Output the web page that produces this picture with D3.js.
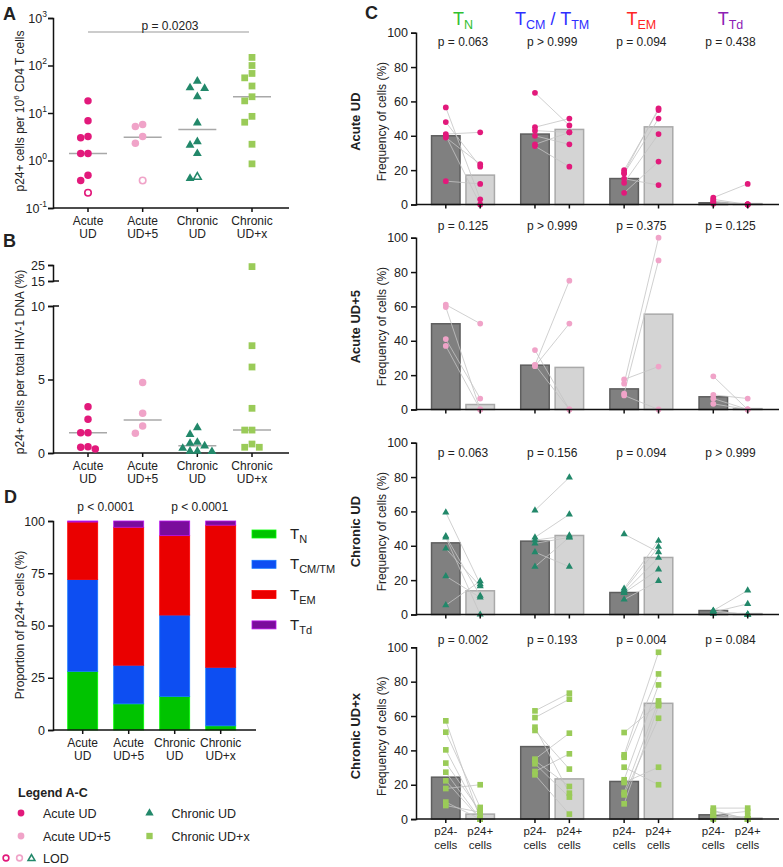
<!DOCTYPE html>
<html lang="en">
<head>
<meta charset="UTF-8">
<title>p24+ cells by memory subset</title>
<script src="https://d3js.org/d3.v7.min.js"></script>
<style>
  body { margin: 0; background: #fff; }
  svg text { font-family: "Liberation Sans", Arial, Helvetica, sans-serif; fill: #222; }
</style>
</head>
<body>
<div id="chart"></div>
<script>
// ---------- data ----------
const groups = ["Acute UD", "Acute UD+5", "Chronic UD", "Chronic UD+x"];
const groupLines = [["Acute", "UD"], ["Acute", "UD+5"], ["Chronic", "UD"], ["Chronic", "UD+x"]];
const groupColors = ["#e2197b", "#f0a3c8", "#22886a", "#9acb58"];
const groupShapes = ["circle", "circle", "triangle", "square"];

// A: p24+ cells per 10^6 CD4 T cells
const aAcuteUD = [18, 6.9, 3.2, 3.0, 1.4, 1.4, 0.49, 0.38];
const aAcuteUD5 = [5.2, 5.7, 2.3, 3.2];
const aChronicUD = [47, 33, 34, 22, 6.2, 2.5, 2.1, 1.4, 0.42];
const aChronicUDx = [148, 100, 68, 55, 37, 18, 22, 8.5, 6.4, 2.2, 0.85];
const aLod = [0.21, 0.38, 0.45, null];
const aMedians = [1.4, 3.1, 4.5, 22];

// B: p24+ cells per total HIV-1 DNA (%)
const bAcuteUD = [3.15, 2.3, 1.38, 1.38, 0.43, 0.27, 0.39];
const bAcuteUD5 = [4.8, 2.7, 1.84, 1.34];
const bChronicUD = [1.72, 1.27, 0.73, 0.66, 0.48, 0.32, 0.12, 0.12, 0.1];
const bChronicUDx = [24, 7.3, 5.85, 3.04, 1.56, 1.56, 0.61, 0.39, 0.39];
const bMedians = [1.38, 2.25, 0.5, 1.56];

// C: subsets, [p24- , p24+] pairs per donor
const subsets = ["TN", "TCM", "TEM", "TTd"];
const cAcuteUD = [
  [[56.5, 3], [48, 22], [41, 42], [40, 0], [39, 23.5], [13.6, 12]],
  [[65, 46], [45, 50], [43, 42], [40, 35], [35, 42], [34, 22]],
  [[20, 55], [18.4, 56], [18, 50], [12.6, 41], [6.8, 25], [15, 11.3]],
  [[4, 12], [3, 0], [1.5, 0], [0.5, 0], [2, 0], [1, 0]]
];
const cAcuteUD5 = [
  [[61, 50], [59.6, 0], [41, 6.4], [37, 0]],
  [[25.8, 75], [25.2, 50], [34.6, 0], [26, 0]],
  [[17.5, 25], [15, 100], [9.3, 86.8], [8.2, 0]],
  [[19.3, 0], [8.5, 6.4], [6.4, 0], [3.3, 0]]
];
const cChronicUD = [
  [[59.4, 17.7], [45.6, 10.9], [44.9, 0], [38.4, 16.5], [22.3, 9.9], [5.4, 19.4]],
  [[60.6, 79.8], [44.9, 58.3], [43.3, 46], [41.4, 44.9], [36.3, 27.8], [27.8, 45]],
  [[46.8, 36.3], [15.1, 42.9], [14.2, 39.4], [12.6, 26.2], [8.7, 19.6], [13, 33]],
  [[2.3, 14], [1.4, 6.2], [2, 0], [1, 0], [0.5, 0], [2, 0]]
];
const cChronicUDx = [
  [[57.2, 0], [50.6, 6.8], [40.3, 2.5], [32.6, 4.5], [27.3, 0], [22.3, 0], [17.8, 20], [9.9, 0], [7.9, 4]],
  [[63, 73.3], [59.1, 69.8], [53.5, 15.1], [51.6, 29.1], [34.9, 50], [34.1, 19], [32.2, 12.8], [27.7, 38], [25.8, 2.9]],
  [[50.4, 66.9], [37.4, 97.1], [36, 84.5], [30.2, 20], [22.9, 78.1], [21.3, 30.2], [15.5, 68.8], [14.1, 58.7], [8.9, 66]],
  [[6.4, 6.4], [4.5, 0], [2.5, 4.5], [1, 1.5], [0, 0], [0.6, 0], [5, 0], [3, 0], [1.5, 0]]
];
const cBarsNeg = [[40, 41, 15.1, 1], [49.9, 25.8, 12, 7.4], [41.7, 42.7, 12.8, 2.3], [24.4, 42.2, 21.9, 2.5]];
const cBarsPos = [[17.1, 43.7, 45.2, 0.5], [2.9, 24.5, 55.5, 0.5], [13.8, 46, 33.2, 0.5], [2.9, 23.4, 67.4, 0.5]];
const cPvals = [
  ["p = 0.063", "p > 0.999", "p = 0.094", "p = 0.438"],
  ["p = 0.125", "p > 0.999", "p = 0.375", "p = 0.125"],
  ["p = 0.063", "p = 0.156", "p = 0.094", "p > 0.999"],
  ["p = 0.002", "p = 0.193", "p = 0.004", "p = 0.084"]
];

// D: proportion of p24+ cells per subset
const dTN = [28, 12.5, 16, 2];
const dTCM = [44, 18.5, 39, 28];
const dTEM = [27.5, 66, 38, 68];
const dTTd = [0.5, 3, 7, 2];
const subsetColors = ["#00c300", "#0d4ef2", "#ea0000", "#7a0c9c"];
const subsetTitleColors = ["#30c030", "#2e2eff", "#ff2424", "#8c20b4"];
const subsetMain = ["T", "T", "T", "T"];
const subsetSub = ["N", "CM/TM", "EM", "Td"];

// ---------- setup ----------
const W = 783, H = 867;
const svg = d3.select("#chart").append("svg").attr("width", W).attr("height", H);

function styleAxis(g, fs) {
  g.select(".domain").attr("stroke", "#111").attr("stroke-width", 1.5);
  g.selectAll(".tick line").attr("stroke", "#111").attr("stroke-width", 1.5);
  g.selectAll(".tick text").attr("fill", "#222").style("font-size", (fs || 12.5) + "px")
    .style("font-family", '"Liberation Sans", Arial, sans-serif');
}

function symbolPath(shape, size) {
  const t = shape === "triangle" ? d3.symbolTriangle : shape === "square" ? d3.symbolSquare : d3.symbolCircle;
  return d3.symbol().type(t).size(size)();
}

function marker(g, shape, x, y, size, color, open) {
  g.append("path")
    .attr("d", symbolPath(shape, size))
    .attr("transform", `translate(${x},${y})`)
    .attr("fill", open ? "#fff" : color)
    .attr("stroke", open ? color : "none")
    .attr("stroke-width", 1.6);
}

// simple swarm: place each point at the first free column offset
function swarm(ys, step, dMin) {
  const placed = [];
  const out = new Array(ys.length);
  const order = ys.map((d, i) => i).sort((a, b) => ys[a] - ys[b]);
  order.forEach(i => {
    for (const c of [0, -1, 1, -2, 2, -3, 3]) {
      const dx = c * step;
      if (placed.every(p => Math.abs(p.dx - dx) >= step - 0.1 || Math.abs(p.y - ys[i]) >= dMin)) {
        placed.push({ dx, y: ys[i] });
        out[i] = dx;
        break;
      }
    }
  });
  return out;
}

function label(x, y, text, opts) {
  const o = opts || {};
  const t = svg.append("text").attr("x", x).attr("y", y).text(text)
    .style("font-size", (o.size || 12.5) + "px")
    .attr("text-anchor", o.anchor || "start");
  if (o.bold) t.style("font-weight", "bold");
  if (o.rotate) t.attr("transform", `rotate(-90,${x},${y})`);
  return t;
}

function xGroupLabels(xFn, y0) {
  groups.forEach((g, i) => {
    label(xFn(g), y0, groupLines[i][0], { anchor: "middle", size: 12 });
    label(xFn(g), y0 + 13.5, groupLines[i][1], { anchor: "middle", size: 12 });
  });
}

function groupXAxis(xFn, y, x0, x1) {
  const g = svg.append("g");
  g.append("line").attr("x1", x0).attr("x2", x1).attr("y1", y).attr("y2", y)
    .attr("stroke", "#111").attr("stroke-width", 1.5);
  groups.forEach(d => g.append("line").attr("x1", xFn(d)).attr("x2", xFn(d))
    .attr("y1", y).attr("y2", y + 4).attr("stroke", "#111").attr("stroke-width", 1.5));
}

// ---------- panel A ----------
const yA = d3.scaleLog().domain([0.1, 1000]).range([208, 18]);
const xA = d3.scalePoint().domain(groups).range([88, 252]);
const axA = svg.append("g").attr("transform", "translate(53,0)")
  .call(d3.axisLeft(yA).tickValues([0.1, 1, 10, 100, 1000]).tickFormat("").tickSizeOuter(0).tickSize(5));
styleAxis(axA);
[-1, 0, 1, 2, 3].forEach(e => {
  const t = svg.append("text").attr("x", 47).attr("y", yA(Math.pow(10, e)) + 4.5)
    .attr("text-anchor", "end").style("font-size", "12.5px");
  t.append("tspan").text("10");
  t.append("tspan").text(e).attr("dy", -6).style("font-size", "8.5px");
});
groupXAxis(xA, 208, 53, 289);
xGroupLabels(xA, 224.5);

const aSets = [aAcuteUD, aAcuteUD5, aChronicUD, aChronicUDx];
aSets.forEach((vals, gi) => {
  const all = vals.map(v => ({ v, lod: false }));
  if (aLod[gi] != null) all.push({ v: aLod[gi], lod: true });
  const ys = all.map(d => yA(d.v));
  const dx = swarm(ys, 7.3, 7.5);
  const cx = xA(groups[gi]);
  svg.append("line").attr("x1", cx - 19).attr("x2", cx + 19)
    .attr("y1", yA(aMedians[gi])).attr("y2", yA(aMedians[gi]))
    .attr("stroke", "#a8a8a8").attr("stroke-width", 1.5);
  const g = svg.append("g");
  all.forEach((d, i) => {
    const sz = groupShapes[gi] === "square" ? 46 : groupShapes[gi] === "triangle" ? 34 : 44;
    marker(g, groupShapes[gi], cx + dx[i], ys[i], d.lod ? sz * 0.75 : sz, groupColors[gi], d.lod);
  });
});
svg.append("line").attr("x1", xA(groups[0])).attr("x2", xA(groups[3]) - 3)
  .attr("y1", 32).attr("y2", 32).attr("stroke", "#999").attr("stroke-width", 1);
label((xA(groups[0]) + xA(groups[3])) / 2, 30, "p = 0.0203", { anchor: "middle", size: 12 });
const yLabA = svg.append("text").attr("transform", "translate(24,111) rotate(-90)")
  .attr("text-anchor", "middle").style("font-size", "12px");
yLabA.append("tspan").text("p24+ cells per 10");
yLabA.append("tspan").text("6").attr("dy", -5).style("font-size", "8px");
yLabA.append("tspan").text(" CD4 T cells").attr("dy", 5);
label(3, 20, "A", { bold: true, size: 18 });

// ---------- panel B ----------
const yBLow = d3.scaleLinear().domain([0, 10]).range([453, 306]);
const yBHigh = d3.scaleLinear().domain([15, 25]).range([281, 265]);
const yB = v => v <= 10 ? yBLow(v) : yBHigh(v);
const xB = d3.scalePoint().domain(groups).range([88, 252]);
const axB1 = svg.append("g").attr("transform", "translate(53,0)")
  .call(d3.axisLeft(yBLow).tickValues([0, 5, 10]).tickSizeOuter(0).tickSize(5));
styleAxis(axB1);
const axB2 = svg.append("g").attr("transform", "translate(53,0)")
  .call(d3.axisLeft(yBHigh).tickValues([15, 25]).tickSizeOuter(0).tickSize(5));
styleAxis(axB2);
[yBLow(10), yBHigh(15)].forEach(y => svg.append("line").attr("x1", 53).attr("x2", 59)
  .attr("y1", y).attr("y2", y).attr("stroke", "#111").attr("stroke-width", 1.5));
groupXAxis(xB, 453, 53, 289);
xGroupLabels(xB, 469.5);

const bSets = [bAcuteUD, bAcuteUD5, bChronicUD, bChronicUDx];
bSets.forEach((vals, gi) => {
  const ys = vals.map(yB);
  const dx = swarm(ys, 7.3, 7.5);
  const cx = xB(groups[gi]);
  svg.append("line").attr("x1", cx - 19).attr("x2", cx + 19)
    .attr("y1", yB(bMedians[gi])).attr("y2", yB(bMedians[gi]))
    .attr("stroke", "#a8a8a8").attr("stroke-width", 1.5);
  const g = svg.append("g");
  vals.forEach((v, i) => {
    const sz = groupShapes[gi] === "square" ? 46 : groupShapes[gi] === "triangle" ? 34 : 44;
    marker(g, groupShapes[gi], cx + dx[i], ys[i], sz, groupColors[gi], false);
  });
});
label(24, 362, "p24+ cells per total HIV-1 DNA (%)", { anchor: "middle", size: 12, rotate: true });
label(3, 247, "B", { bold: true, size: 18 });

// ---------- panel C ----------
const xC = d3.scalePoint().domain(subsets).range([463, 730.5]);
const half = 17.2, barW = 28.5;
const rowTops = [32.7, 237.7, 442.7, 647.3];
const rowH = 171.8;
const pBase = [46, 229.5, 457, 644];
const cRows = [cAcuteUD, cAcuteUD5, cChronicUD, cChronicUDx];
const rowTitles = ["Acute  UD", "Acute UD+5", "Chronic UD", "Chronic UD+x"];
const cShape = ["circle", "circle", "triangle", "square"];

cRows.forEach((row, ri) => {
  const y = d3.scaleLinear().domain([0, 100]).range([rowTops[ri] + rowH, rowTops[ri]]);
  const base = rowTops[ri] + rowH;
  const g = svg.append("g");
  subsets.forEach((s, si) => {
    const xn = xC(s) - half, xp = xC(s) + half;
    g.append("rect").attr("x", xn - barW / 2).attr("width", barW)
      .attr("y", y(cBarsNeg[ri][si])).attr("height", base - y(cBarsNeg[ri][si]))
      .attr("fill", "#808080").attr("stroke", "#5e5e5e").attr("stroke-width", 1.5);
    g.append("rect").attr("x", xp - barW / 2).attr("width", barW)
      .attr("y", y(cBarsPos[ri][si])).attr("height", base - y(cBarsPos[ri][si]))
      .attr("fill", "#d4d4d4").attr("stroke", "#a9a9a9").attr("stroke-width", 1.5);
    row[si].forEach(p => g.append("line").attr("x1", xn).attr("x2", xp)
      .attr("y1", y(p[0])).attr("y2", y(p[1])).attr("stroke", "#c4c4c4").attr("stroke-width", 0.8));
    const sz = cShape[ri] === "square" ? 32 : cShape[ri] === "triangle" ? 22 : 26;
    row[si].forEach(p => {
      marker(g, cShape[ri], xn, y(p[0]), sz, groupColors[ri], false);
      marker(g, cShape[ri], xp, y(p[1]), sz, groupColors[ri], false);
    });
    label(xC(s), pBase[ri], cPvals[ri][si], { anchor: "middle", size: 12 });
  });
  const ax = svg.append("g").attr("transform", "translate(416,0)")
    .call(d3.axisLeft(y).tickValues([0, 20, 40, 60, 80, 100]).tickSizeOuter(0).tickSize(5));
  styleAxis(ax);
  const xg = svg.append("g");
  xg.append("line").attr("x1", 416).attr("x2", 779).attr("y1", base).attr("y2", base)
    .attr("stroke", "#111").attr("stroke-width", 1.5);
  subsets.forEach(s => [xC(s) - half, xC(s) + half].forEach(x =>
    xg.append("line").attr("x1", x).attr("x2", x).attr("y1", base).attr("y2", base + 4)
      .attr("stroke", "#111").attr("stroke-width", 1.5)));
  const mid = rowTops[ri] + rowH / 2 + 3;
  label(360, mid, rowTitles[ri], { anchor: "middle", size: 13, bold: true, rotate: true });
  label(386, mid, "Frequency of cells (%)", { anchor: "middle", size: 12, rotate: true });
});
// bottom row x labels
subsets.forEach(s => {
  [[xC(s) - half, "p24-"], [xC(s) + half, "p24+"]].forEach(([x, t]) => {
    label(x, 835, t, { anchor: "middle", size: 11.5 });
    label(x, 848.5, "cells", { anchor: "middle", size: 11.5 });
  });
});
// column headers
subsets.forEach((s, si) => {
  const t = svg.append("text").attr("x", xC(s)).attr("y", 25).attr("text-anchor", "middle")
    .style("font-size", "18px").style("fill", subsetTitleColors[si]);
  if (si === 1) {
    t.append("tspan").text("T").style("fill", subsetTitleColors[si]);
    t.append("tspan").text("CM").attr("dy", 4).style("font-size", "12.5px").style("fill", subsetTitleColors[si]);
    t.append("tspan").text(" / T").attr("dy", -4).style("fill", subsetTitleColors[si]);
    t.append("tspan").text("TM").attr("dy", 4).style("font-size", "12.5px").style("fill", subsetTitleColors[si]);
  } else {
    t.append("tspan").text("T").style("fill", subsetTitleColors[si]);
    t.append("tspan").text(subsetSub[si]).attr("dy", 4).style("font-size", "12.5px").style("fill", subsetTitleColors[si]);
  }
});
label(365, 19, "C", { bold: true, size: 18 });

// ---------- panel D ----------
const yD = d3.scaleLinear().domain([0, 100]).range([730, 521]);
const xD = d3.scaleBand().domain(groups).range([59.7, 243.7]).paddingInner(0.348).paddingOuter(0.174);
const stackRows = groups.map((g, i) => ({ g, TN: dTN[i], TCM: dTCM[i], TEM: dTEM[i], TTd: dTTd[i] }));
const series = d3.stack().keys(subsets)(stackRows);
series.forEach((s, si) => {
  svg.append("g").selectAll("rect").data(s).join("rect")
    .attr("x", d => xD(d.data.g)).attr("width", xD.bandwidth())
    .attr("y", d => yD(d[1])).attr("height", d => yD(d[0]) - yD(d[1]))
    .attr("fill", subsetColors[si])
    .attr("stroke", d3.color(subsetColors[si]).brighter(1.2)).attr("stroke-width", 0.8);
});
const axD = svg.append("g").attr("transform", "translate(53,0)")
  .call(d3.axisLeft(yD).tickValues([0, 25, 50, 75, 100]).tickSizeOuter(0).tickSize(5));
styleAxis(axD);
const xDc = g => xD(g) + xD.bandwidth() / 2;
groupXAxis(xDc, 730, 53, 256);
xGroupLabels(xDc, 746.5);
label((xDc(groups[0]) + xDc(groups[1])) / 2, 511, "p < 0.0001", { anchor: "middle", size: 12 });
label((xDc(groups[2]) + xDc(groups[3])) / 2 + 2, 511, "p < 0.0001", { anchor: "middle", size: 12 });
label(24, 625, "Proportion of p24+ cells (%)", { anchor: "middle", size: 12, rotate: true });
label(4, 503, "D", { bold: true, size: 18 });
// D legend
subsets.forEach((s, si) => {
  const yy = 534 + si * 30.3;
  svg.append("rect").attr("x", 252).attr("y", yy - 4).attr("width", 24).attr("height", 8)
    .attr("fill", subsetColors[si]).attr("stroke", d3.color(subsetColors[si]).brighter(1.2)).attr("stroke-width", 0.8);
  const t = svg.append("text").attr("x", 290).attr("y", yy + 5).style("font-size", "15px");
  t.append("tspan").text(subsetMain[si]);
  t.append("tspan").text(subsetSub[si]).attr("dy", 4).style("font-size", "11px");
});

// ---------- legend A-C ----------
label(18, 797, "Legend A-C", { bold: true, size: 12.5 });
const legItems = [
  { gi: 0, x: 21, y: 813 }, { gi: 2, x: 149.5, y: 813 },
  { gi: 1, x: 21, y: 836 }, { gi: 3, x: 149.5, y: 836 }
];
const lg = svg.append("g");
legItems.forEach(it => {
  const sz = groupShapes[it.gi] === "square" ? 40 : groupShapes[it.gi] === "triangle" ? 30 : 36;
  marker(lg, groupShapes[it.gi], it.x, it.y, sz, groupColors[it.gi], false);
  label(it.x + 22, it.y + 4.5, groups[it.gi], { size: 12.5 });
});
marker(lg, "circle", 6, 858, 26, groupColors[0], true);
marker(lg, "circle", 19.5, 858, 26, groupColors[1], true);
marker(lg, "triangle", 31.5, 858.5, 20, groupColors[2], true);
label(43, 862.5, "LOD", { size: 12.5 });
</script>
</body>
</html>
